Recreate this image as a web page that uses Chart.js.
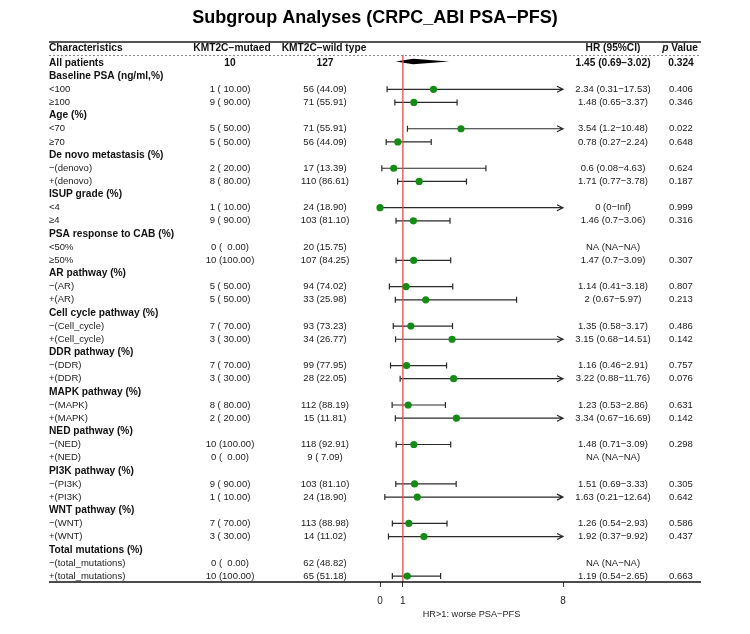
<!DOCTYPE html>
<html>
<head>
<meta charset="utf-8">
<script src="https://cdn.jsdelivr.net/npm/chart.js@4.4.1/dist/chart.umd.min.js"></script>
<style>
  html, body { margin: 0; padding: 0; background: #fff; }
  #wrap { width: 750px; height: 634px; }
</style>
</head>
<body>
<div id="wrap"><canvas id="forest" width="750" height="634"></canvas></div>
<script>
// Rows of the table (row 0 = All patients)
const rowLabels = [
    'All patients',
    'Baseline PSA (ng/ml,%)', '<100', '≥100',
    'Age (%)', '<70', '≥70',
    'De novo metastasis (%)', '−(denovo)', '+(denovo)',
    'ISUP grade (%)', '<4', '≥4',
    'PSA response to CAB (%)', '<50%', '≥50%',
    'AR pathway (%)', '−(AR)', '+(AR)',
    'Cell cycle pathway (%)', '−(Cell_cycle)', '+(Cell_cycle)',
    'DDR pathway (%)', '−(DDR)', '+(DDR)',
    'MAPK pathway (%)', '−(MAPK)', '+(MAPK)',
    'NED pathway (%)', '−(NED)', '+(NED)',
    'PI3K pathway (%)', '−(PI3K)', '+(PI3K)',
    'WNT pathway (%)', '−(WNT)', '+(WNT)',
    'Total mutations (%)', '−(total_mutations)', '+(total_mutations)'
];

const mutatedText = [
    '10',
    '', '1 ( 10.00)', '9 ( 90.00)',
    '', '5 ( 50.00)', '5 ( 50.00)',
    '', '2 ( 20.00)', '8 ( 80.00)',
    '', '1 ( 10.00)', '9 ( 90.00)',
    '', '0 (  0.00)', '10 (100.00)',
    '', '5 ( 50.00)', '5 ( 50.00)',
    '', '7 ( 70.00)', '3 ( 30.00)',
    '', '7 ( 70.00)', '3 ( 30.00)',
    '', '8 ( 80.00)', '2 ( 20.00)',
    '', '10 (100.00)', '0 (  0.00)',
    '', '9 ( 90.00)', '1 ( 10.00)',
    '', '7 ( 70.00)', '3 ( 30.00)',
    '', '0 (  0.00)', '10 (100.00)'
];

const wildText = [
    '127',
    '', '56 (44.09)', '71 (55.91)',
    '', '71 (55.91)', '56 (44.09)',
    '', '17 (13.39)', '110 (86.61)',
    '', '24 (18.90)', '103 (81.10)',
    '', '20 (15.75)', '107 (84.25)',
    '', '94 (74.02)', '33 (25.98)',
    '', '93 (73.23)', '34 (26.77)',
    '', '99 (77.95)', '28 (22.05)',
    '', '112 (88.19)', '15 (11.81)',
    '', '118 (92.91)', '9 ( 7.09)',
    '', '103 (81.10)', '24 (18.90)',
    '', '113 (88.98)', '14 (11.02)',
    '', '62 (48.82)', '65 (51.18)'
];

const hrValues = [
    1.45,
    null, 2.34, 1.48,
    null, 3.54, 0.78,
    null, 0.6, 1.71,
    null, 0, 1.46,
    null, null, 1.47,
    null, 1.14, 2,
    null, 1.35, 3.15,
    null, 1.16, 3.22,
    null, 1.23, 3.34,
    null, 1.48, null,
    null, 1.51, 1.63,
    null, 1.26, 1.92,
    null, null, 1.19
];

const lowerValues = [
    0.69,
    null, 0.31, 0.65,
    null, 1.2, 0.27,
    null, 0.08, 0.77,
    null, 0, 0.7,
    null, null, 0.7,
    null, 0.41, 0.67,
    null, 0.58, 0.68,
    null, 0.46, 0.88,
    null, 0.53, 0.67,
    null, 0.71, null,
    null, 0.69, 0.21,
    null, 0.54, 0.37,
    null, null, 0.54
];

const upperValues = [
    3.02,
    null, 17.53, 3.37,
    null, 10.48, 2.24,
    null, 4.63, 3.78,
    null, Infinity, 3.06,
    null, null, 3.09,
    null, 3.18, 5.97,
    null, 3.17, 14.51,
    null, 2.91, 11.76,
    null, 2.86, 16.69,
    null, 3.09, null,
    null, 3.33, 12.64,
    null, 2.93, 9.92,
    null, null, 2.65
];

const hrText = [
    '1.45 (0.69−3.02)',
    '', '2.34 (0.31−17.53)', '1.48 (0.65−3.37)',
    '', '3.54 (1.2−10.48)', '0.78 (0.27−2.24)',
    '', '0.6 (0.08−4.63)', '1.71 (0.77−3.78)',
    '', '0 (0−Inf)', '1.46 (0.7−3.06)',
    '', 'NA (NA−NA)', '1.47 (0.7−3.09)',
    '', '1.14 (0.41−3.18)', '2 (0.67−5.97)',
    '', '1.35 (0.58−3.17)', '3.15 (0.68−14.51)',
    '', '1.16 (0.46−2.91)', '3.22 (0.88−11.76)',
    '', '1.23 (0.53−2.86)', '3.34 (0.67−16.69)',
    '', '1.48 (0.71−3.09)', 'NA (NA−NA)',
    '', '1.51 (0.69−3.33)', '1.63 (0.21−12.64)',
    '', '1.26 (0.54−2.93)', '1.92 (0.37−9.92)',
    '', 'NA (NA−NA)', '1.19 (0.54−2.65)'
];

const pText = [
    '0.324',
    '', '0.406', '0.346',
    '', '0.022', '0.648',
    '', '0.624', '0.187',
    '', '0.999', '0.316',
    '', '', '0.307',
    '', '0.807', '0.213',
    '', '0.486', '0.142',
    '', '0.757', '0.076',
    '', '0.631', '0.142',
    '', '0.298', '',
    '', '0.305', '0.642',
    '', '0.586', '0.437',
    '', '', '0.663'
];

const xTicks = [0, 1, 8];
const X_MAX = 8;

const FONT = '"Liberation Sans", Arial, Helvetica, sans-serif';
const BOLD = 'bold 10.2px ' + FONT;
const PLAIN = '9.5px ' + FONT;

// points for the scatter (summary row is drawn as a diamond)
var points = [];
hrValues.forEach(function (v, i) {
    if (i > 0 && v !== null) points.push({x: v, y: i + 1});
});

function isBold(i) {
    return i === 0 || mutatedText[i] === '';
}

var forestPlugin = {
    id: 'forestTable',
    beforeDatasetsDraw: function (chart) {
        var ctx = chart.ctx, xs = chart.scales.x, ys = chart.scales.y;
        ctx.save();

        // confidence intervals
        ctx.strokeStyle = '#2a2a2a';
        ctx.lineWidth = 1.2;
        for (var i = 1; i < hrValues.length; i++) {
            if (hrValues[i] === null) continue;
            var py = ys.getPixelForValue(i + 1);
            var x0 = xs.getPixelForValue(Math.max(lowerValues[i], 0));
            var clipped = upperValues[i] > X_MAX;
            var x1 = xs.getPixelForValue(Math.min(upperValues[i], X_MAX));
            ctx.beginPath();
            ctx.moveTo(x0, py);
            ctx.lineTo(x1, py);
            ctx.moveTo(x0, py - 3);
            ctx.lineTo(x0, py + 3);
            if (clipped) {
                ctx.moveTo(x1 - 6, py - 3);
                ctx.lineTo(x1, py);
                ctx.lineTo(x1 - 6, py + 3);
            } else {
                ctx.moveTo(x1, py - 3);
                ctx.lineTo(x1, py + 3);
            }
            ctx.stroke();
        }

        // summary diamond
        var dy = ys.getPixelForValue(1) - 1.5;
        ctx.fillStyle = '#000';
        ctx.beginPath();
        ctx.moveTo(xs.getPixelForValue(lowerValues[0]), dy);
        ctx.lineTo(xs.getPixelForValue(hrValues[0]), dy - 2.8);
        ctx.lineTo(xs.getPixelForValue(upperValues[0]), dy);
        ctx.lineTo(xs.getPixelForValue(hrValues[0]), dy + 2.8);
        ctx.closePath();
        ctx.fill();

        // reference line at HR = 1
        var rx = xs.getPixelForValue(1);
        ctx.strokeStyle = '#e8474a';
        ctx.lineWidth = 1.3;
        ctx.beginPath();
        ctx.moveTo(rx, chart.chartArea.top);
        ctx.lineTo(rx, chart.chartArea.bottom);
        ctx.stroke();
        ctx.restore();
    },
    afterDraw: function (chart) {
        var ctx = chart.ctx, ys = chart.scales.y;
        var colLabel = 49, colMut = 230, colWild = 325, colHR = 613, colP = 681;
        var left = 49, right = 701;
        ctx.save();

        // title
        ctx.fillStyle = '#000';
        ctx.textBaseline = 'middle';
        ctx.textAlign = 'center';
        ctx.font = 'bold 18px ' + FONT;
        ctx.fillText('Subgroup Analyses (CRPC_ABI PSA−PFS)', 375, 18);

        // table rules
        ctx.strokeStyle = '#555';
        ctx.lineWidth = 2;
        ctx.beginPath();
        ctx.moveTo(left, 42);
        ctx.lineTo(right, 42);
        ctx.stroke();
        ctx.strokeStyle = '#888';
        ctx.lineWidth = 1;
        ctx.setLineDash([2, 2]);
        ctx.beginPath();
        ctx.moveTo(left, 55.5);
        ctx.lineTo(right, 55.5);
        ctx.stroke();
        ctx.setLineDash([]);
        ctx.strokeStyle = '#111';
        ctx.lineWidth = 1.5;
        ctx.beginPath();
        ctx.moveTo(left, chart.chartArea.bottom);
        ctx.lineTo(right, chart.chartArea.bottom);
        ctx.stroke();

        // header
        ctx.fillStyle = '#111';
        ctx.font = BOLD;
        var hy = 48.5;
        ctx.textAlign = 'left';
        ctx.fillText('Characteristics', colLabel, hy);
        ctx.textAlign = 'center';
        ctx.fillText('KMT2C−mutaed', 232, hy);
        ctx.fillText('KMT2C−wild type', 324, hy);
        ctx.fillText('HR (95%CI)', colHR, hy);
        // "p Value" with italic p
        ctx.font = 'bold italic 10.2px ' + FONT;
        var wp = ctx.measureText('p ').width;
        ctx.font = BOLD;
        var wv = ctx.measureText('Value').width;
        var sx = 680 - (wp + wv) / 2;
        ctx.textAlign = 'left';
        ctx.font = 'bold italic 10.2px ' + FONT;
        ctx.fillText('p', sx, hy);
        ctx.font = BOLD;
        ctx.fillText('Value', sx + wp, hy);

        // rows
        for (var i = 0; i < rowLabels.length; i++) {
            var py = ys.getPixelForValue(i + 1);
            ctx.font = isBold(i) ? BOLD : PLAIN;
            ctx.fillStyle = isBold(i) ? '#111' : '#1a1a1a';
            ctx.textAlign = 'left';
            ctx.fillText(rowLabels[i], colLabel, py);
            ctx.textAlign = 'center';
            ctx.font = i === 0 ? BOLD : PLAIN;
            ctx.fillText(mutatedText[i], colMut, py);
            ctx.fillText(wildText[i], colWild, py);
            ctx.fillText(hrText[i], colHR, py);
            ctx.fillText(pText[i], colP, py);
        }
        ctx.restore();
    }
};

var chart = new Chart(document.getElementById('forest'), {
    type: 'scatter',
    data: {
        datasets: [{
            data: points,
            backgroundColor: '#158c15',
            borderWidth: 0,
            pointRadius: 3.6,
            clip: false
        }]
    },
    options: {
        responsive: false,
        animation: false,
        devicePixelRatio: 1,
        layout: {
            padding: {left: 380, right: 187, top: 55, bottom: 14}
        },
        plugins: {
            legend: {display: false},
            tooltip: {enabled: false}
        },
        scales: {
            x: {
                type: 'linear',
                min: 0,
                max: X_MAX,
                afterBuildTicks: function (axis) {
                    axis.ticks = xTicks.map(function (v) { return {value: v}; });
                },
                grid: {
                    drawOnChartArea: false,
                    drawTicks: true,
                    tickLength: 5,
                    tickColor: '#333'
                },
                border: {display: false},
                ticks: {
                    color: '#222',
                    padding: 8,
                    maxRotation: 0,
                    font: {family: FONT, size: 10}
                },
                title: {
                    display: true,
                    text: 'HR>1: worse PSA−PFS',
                    color: '#222',
                    padding: {top: -6, bottom: 0},
                    font: {family: FONT, size: 9.2}
                }
            },
            y: {
                type: 'linear',
                display: false,
                reverse: true,
                min: 0.393,
                max: 40.45
            }
        }
    },
    plugins: [forestPlugin]
});
</script>
</body>
</html>
